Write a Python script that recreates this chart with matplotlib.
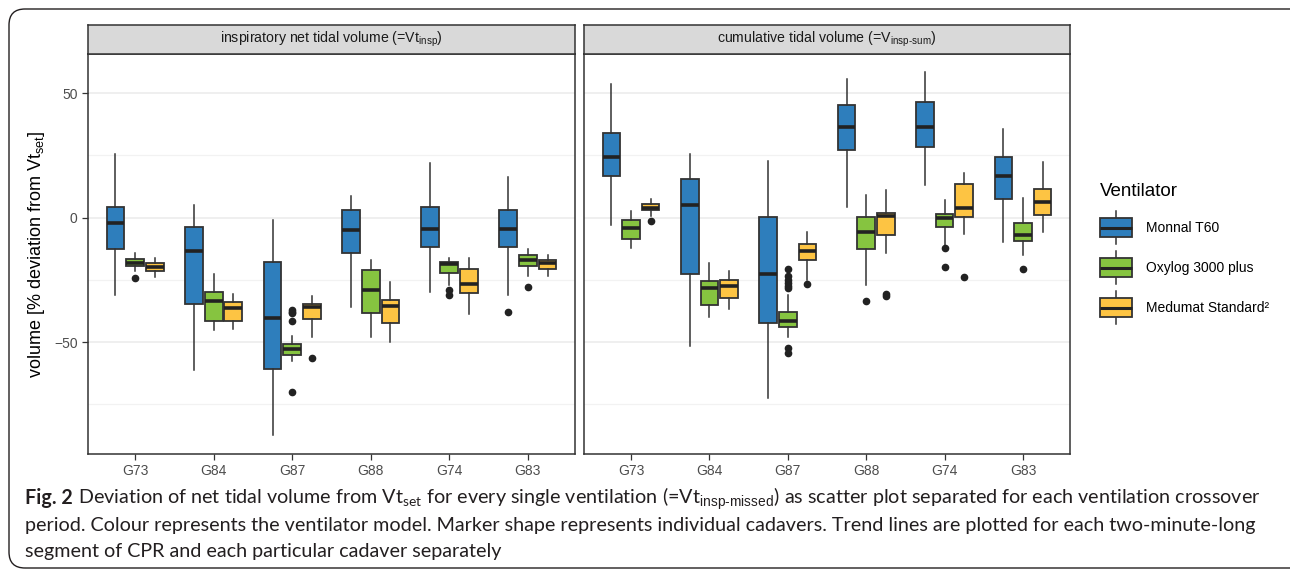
import numpy as np
import matplotlib
matplotlib.use("Agg")
import matplotlib.pyplot as plt
from matplotlib.patches import Rectangle, FancyBboxPatch, Patch
from matplotlib.lines import Line2D
from matplotlib.legend_handler import HandlerBase

plt.rcParams['font.family'] = ['Liberation Sans', 'DejaVu Sans']
plt.rcParams['mathtext.fontset'] = 'custom'
plt.rcParams['mathtext.rm'] = 'Liberation Sans'

W, H = 1290, 571

groups = ['G73', 'G84', 'G87', 'G88', 'G74', 'G83']
ventilators = ['Monnal T60', 'Oxylog 3000 plus', 'Medumat Standard²']
colors = ['#2E7EBC', '#86C440', '#FDC443']
panel_titles = [r'inspiratory net tidal volume (=Vt$_{\mathregular{insp}}$)',
                r'cumulative tidal volume (=V$_{\text{insp-sum}}$)']

# box stats per ventilator: [whisker low, q1, median, q3, whisker high] for each group
insp_monnal = [[-31.1, -12.5, -2.3, 4.3, 25.6],
               [-61.2, -34.8, -13.5, -3.9, 5.0],
               [-87.5, -60.7, -40.3, -17.8, -0.9],
               [-36.1, -14.1, -4.8, 3.2, 8.8],
               [-30.0, -11.9, -4.7, 4.3, 21.8],
               [-30.9, -11.8, -4.7, 3.2, 16.2]]
insp_oxylog = [[-21.3, -19.6, -18.2, -16.6, -14.1],
               [-45.3, -41.7, -33.6, -30.0, -22.7],
               [-57.6, -55.2, -52.9, -50.8, -47.5],
               [-47.9, -38.5, -29.2, -21.0, -17.0],
               [-26.9, -22.4, -18.5, -17.9, -16.4],
               [-23.5, -19.3, -17.2, -15.1, -12.5]]
insp_medumat = [[-24.0, -21.3, -19.7, -18.2, -16.4],
                [-44.9, -41.5, -36.4, -33.9, -30.7],
                [-48.1, -40.7, -36.1, -34.5, -31.3],
                [-50.1, -42.5, -35.5, -32.9, -25.9],
                [-38.9, -30.1, -26.8, -20.5, -16.4],
                [-23.5, -20.5, -18.4, -17.2, -15.1]]
insp_outliers_monnal = [[], [], [], [], [], [-38.0]]
insp_outliers_oxylog = [[-24.3], [], [-37.2, -37.9, -38.5, -41.6, -69.9], [], [-29.2, -31.2], [-27.7]]
insp_outliers_medumat = [[], [], [-56.4], [], [], []]

cum_monnal = [[-3.1, 16.8, 24.4, 34.2, 53.6],
              [-51.5, -22.5, 5.0, 15.5, 25.7],
              [-72.5, -42.5, -22.8, 0.3, 22.7],
              [4.4, 27.1, 36.3, 45.4, 55.6],
              [13.0, 28.4, 36.5, 46.5, 58.4],
              [-9.7, 7.6, 16.6, 24.3, 35.5]]
cum_oxylog = [[-12.3, -8.7, -4.0, -1.1, 2.8],
              [-40.0, -35.2, -28.4, -25.5, -18.1],
              [-48.1, -43.9, -41.7, -38.1, -31.2],
              [-26.9, -12.5, -5.9, 0.4, 9.2],
              [-11.0, -3.9, -0.3, 1.6, 7.0],
              [-15.1, -9.5, -7.1, -2.0, 7.8]]
cum_medumat = [[0.7, 3.1, 3.8, 5.5, 7.6],
               [-36.8, -32.1, -27.6, -25.1, -21.6],
               [-25.0, -17.0, -13.4, -10.7, -5.9],
               [-14.3, -6.8, 0.8, 2.0, 11.1],
               [-6.7, 0.1, 3.9, 13.7, 18.1],
               [-5.8, 0.9, 6.2, 11.7, 22.4]]
cum_outliers_monnal = [[], [], [], [], [], []]
cum_outliers_oxylog = [[], [], [-20.6, -23.5, -25.0, -26.2, -27.5, -28.2, -52.5, -54.5],
                       [-33.6], [-12.3, -20.0], [-20.5]]
cum_outliers_medumat = [[-1.2], [], [-26.7], [-30.7, -31.3], [-24.0], []]

panels = [
    ([insp_monnal, insp_oxylog, insp_medumat],
     [insp_outliers_monnal, insp_outliers_oxylog, insp_outliers_medumat]),
    ([cum_monnal, cum_oxylog, cum_medumat],
     [cum_outliers_monnal, cum_outliers_oxylog, cum_outliers_medumat]),
]

EDGE = '#333333'
GRID = '#EBEBEB'
TXT = '#4D4D4D'


def px_rect(x0, y0, x1, y1):
    # pixel box (top-left origin) -> figure fraction rect
    return [x0 / W, 1 - y1 / H, (x1 - x0) / W, (y1 - y0) / H]


fig = plt.figure(figsize=(W / 100, H / 100), dpi=100)

panel_px = [(88, 575), (584, 1070)]
for k, (stats_sets, outlier_sets) in enumerate(panels):
    x0, x1 = panel_px[k]
    ax = fig.add_axes(px_rect(x0, 54, x1, 454))
    strip = fig.add_axes(px_rect(x0, 25, x1, 54))
    strip.set_facecolor('#D9D9D9')
    strip.set_xticks([])
    strip.set_yticks([])
    for sp in strip.spines.values():
        sp.set_color(EDGE)
        sp.set_linewidth(1.1)
    strip.text(0.5, 0.5, panel_titles[k], ha='center', va='center',
               fontsize=10.2, color='#1A1A1A', transform=strip.transAxes)

    for j in range(3):
        stats = []
        for i in range(len(groups)):
            lo, q1, med, q3, hi = stats_sets[j][i]
            stats.append(dict(whislo=lo, q1=q1, med=med, q3=q3, whishi=hi,
                              fliers=outlier_sets[j][i]))
        pos = np.arange(len(groups)) + (j - 1) * 0.25
        ax.bxp(stats, positions=pos, widths=0.225, patch_artist=True,
               showcaps=False,
               boxprops=dict(facecolor=colors[j], edgecolor=EDGE, linewidth=1.3),
               medianprops=dict(color='#222222', linewidth=2.6, solid_capstyle='butt'),
               whiskerprops=dict(color=EDGE, linewidth=1.1),
               flierprops=dict(marker='o', markersize=4.5, markerfacecolor='#222222',
                               markeredgecolor='#222222'),
               manage_ticks=False)

    ax.set_xlim(-0.6, len(groups) - 0.4)
    ax.set_ylim(-95.0, 65.8)
    ax.set_xticks(np.arange(len(groups)))
    ax.set_xticklabels(groups)
    ax.set_yticks([-50, 0, 50])
    ax.set_yticks([-75, -25, 25], minor=True)
    ax.grid(axis='y', which='major', color=GRID, linewidth=1.1)
    ax.grid(axis='y', which='minor', color='#F2F2F2', linewidth=0.9)
    ax.set_axisbelow(True)
    ax.tick_params(axis='both', which='major', colors=EDGE, labelcolor=TXT,
                   labelsize=10, length=4, width=0.9)
    ax.tick_params(axis='y', which='minor', length=0)
    if k == 1:
        ax.tick_params(axis='y', which='major', length=0, labelleft=False)
    else:
        ax.set_yticklabels(['\u221250', '0', '50'])
        ax.set_ylabel(r'volume [% deviation from Vt$_{\mathregular{set}}$]',
                      fontsize=13, color='black', labelpad=5)
    for sp in ax.spines.values():
        sp.set_color(EDGE)
        sp.set_linewidth(1.1)


class BoxKey(HandlerBase):
    def create_artists(self, legend, orig_handle, xdescent, ydescent,
                       width, height, fontsize, trans):
        x0, y0 = -xdescent, -ydescent
        fc = orig_handle.get_facecolor()
        ext = 0.35 * height
        wl = Line2D([x0 + width / 2] * 2, [y0 - ext, y0], color=EDGE, lw=1.1, transform=trans)
        wh = Line2D([x0 + width / 2] * 2, [y0 + height, y0 + height + ext],
                    color=EDGE, lw=1.1, transform=trans)
        box = Rectangle((x0, y0), width, height, facecolor=fc, edgecolor=EDGE,
                        lw=1.3, transform=trans)
        med = Line2D([x0, x0 + width], [y0 + height / 2] * 2, color='#222222',
                     lw=2.2, transform=trans, solid_capstyle='butt')
        return [wl, wh, box, med]


handles = [Patch(facecolor=c) for c in colors]
leg = fig.legend(handles, ventilators, loc='upper left',
                 bbox_to_anchor=(1100 / W, 1 - 183 / H), frameon=False,
                 title='Ventilator', title_fontsize=13.5, fontsize=10,
                 handler_map={Patch: BoxKey()}, handlelength=2.3, handleheight=1.75,
                 labelspacing=1.5, handletextpad=1.0, borderpad=0,
                 borderaxespad=0)
leg._legend_box.align = 'left'
leg._legend_box.sep = 13
for t in leg.get_texts():
    t.set_color('black')

# outer rounded frame
frame = FancyBboxPatch((0.09, 0.03), 13.3, 5.59, boxstyle='round,pad=0,rounding_size=0.16',
                       transform=fig.dpi_scale_trans, facecolor='none',
                       edgecolor='#231F20', linewidth=1.0)
fig.patches.append(frame)

# caption
cap_font = ['Lato', 'DejaVu Sans']
lines = [
    r' Deviation of net tidal volume from Vt$_{\mathregular{set}}$ for every single ventilation '
    r'(=Vt$_{\text{insp-missed}}$) as scatter plot separated for each ventilation crossover',
    'period. Colour represents the ventilator model. Marker shape represents individual '
    'cadavers. Trend lines are plotted for each two-minute-long',
    'segment of CPR and each particular cadaver separately',
]
cap_size = 14.2
fig.canvas.draw()
renderer = fig.canvas.get_renderer()
bold = fig.text(25 / W, 1 - 504 / H, 'Fig. 2', fontsize=cap_size, fontweight='bold',
                family=cap_font, color='#231F20', va='baseline')
bb = bold.get_window_extent(renderer)
first = fig.text(bb.x1 / W, 1 - 504 / H, lines[0], fontsize=cap_size, family=cap_font,
                 color='#231F20', va='baseline')
for n, ln in enumerate(lines[1:]):
    fig.text(25 / W, 1 - (504 + 26.5 * (n + 1)) / H, ln, fontsize=cap_size,
             family=cap_font, color='#231F20', va='baseline')

fig.savefig('out.png', dpi=100)
